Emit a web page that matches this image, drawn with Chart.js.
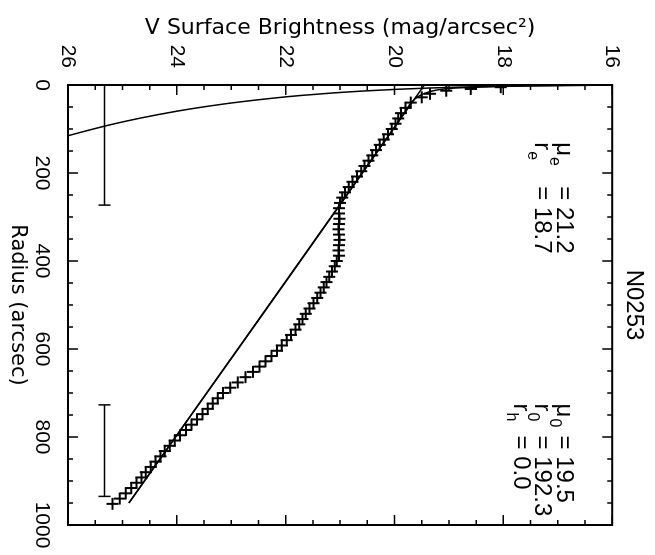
<!DOCTYPE html>
<html>
<head>
<meta charset="utf-8">
<script src="https://cdn.jsdelivr.net/npm/chart.js@4.4.0/dist/chart.umd.min.js"></script>
<style>
  html, body { margin: 0; padding: 0; background: #fff; overflow: hidden; }
  /* the plot is drawn upright, then turned a quarter clockwise like the scan */
  #wrap { position: absolute; left: 0; top: 0; width: 555px; height: 655px;
          transform-origin: 0 0; transform: translate(655px, 0) rotate(90deg); }
</style>
</head>
<body>
<div id="wrap"><canvas id="profile" width="555" height="655"></canvas></div>
<script>
const galaxy = 'N0253';

// measured profile (crosses)
const radius = [5, 9, 13, 20, 28, 40, 52, 64, 76, 88, 100, 112, 124, 136, 148, 160, 172, 184, 196, 208,
  220, 232, 244, 256, 268, 280, 292, 304, 316, 328, 340, 352, 364, 376, 388, 400, 412, 424, 436, 448,
  460, 472, 484, 496, 508, 520, 532, 544, 556, 568, 580, 592, 604, 616, 628, 640, 652, 664, 676, 688,
  700, 712, 724, 736, 748, 760, 772, 784, 796, 808, 820, 832, 844, 856, 868, 880, 892, 904, 916, 928, 940, 952];
const surfBright = [18.05, 18.6, 19.05, 19.35, 19.5, 19.7, 19.8, 19.88, 19.93, 19.98, 20.05, 20.12, 20.2, 20.27, 20.34, 20.41, 20.48, 20.55, 20.61, 20.69,
  20.77, 20.84, 20.91, 20.96, 21.0, 21.02, 21.02, 21.01, 21.02, 21.03, 21.02, 21.01, 21.02, 21.03, 21.02, 21.06, 21.1, 21.15, 21.2, 21.25,
  21.3, 21.36, 21.42, 21.49, 21.56, 21.63, 21.69, 21.75, 21.82, 21.9, 21.98, 22.07, 22.16, 22.26, 22.37, 22.48, 22.6, 22.74, 22.88, 23.02,
  23.15, 23.25, 23.34, 23.43, 23.53, 23.63, 23.73, 23.83, 23.94, 24.04, 24.13, 24.22, 24.3, 24.39, 24.48, 24.57, 24.65, 24.74, 24.84, 24.94, 25.05, 25.18];

// bulge (r^1/4) model curve
const bulgeR  = [0.4, 1, 2, 3, 5, 7, 10, 14, 18, 24, 30, 40, 50, 60, 75, 90, 105, 116];
const bulgeMu = [16.06, 16.88, 17.64, 18.14, 18.86, 19.39, 19.99, 20.62, 21.12, 21.74, 22.24, 22.94, 23.52, 24.02, 24.66, 25.21, 25.69, 26.02];

// bulge + disk
const totalR  = [0.4, 1, 2, 3.5, 5, 7, 10, 15, 25, 40, 60, 950];
const totalMu = [16.0, 16.8, 17.5, 18.1, 18.5, 18.9, 19.15, 19.35, 19.55, 19.69, 19.8, 24.88];

// exponential disk
const diskR  = [0, 950];
const diskMu = [19.45, 24.88];

// radial ranges used for the fits
const fitRanges = [[0, 273], [727, 935]];
const fitBarMu = 25.33;

const bulgeNote = [['μ', 'e', '21.2'], ['r', 'e', '18.7']];
const diskNote  = [['μ', '0', '19.5'], ['r', '0', '192.3'], ['r', 'h', '0.0']];
const noteRows  = [17.02, 17.42, 17.8];   // baselines, in mag
const noteCols  = [130, 724];             // left edges, in arcsec
const eqGap     = [44, 32];               // px from symbol to "="

const SANS = '"Liberation Sans", Arial, sans-serif';
const BLACK = '#000';

function pts(xs, ys) { return xs.map((v, i) => ({x: v, y: ys[i]})); }

const frame = {
  id: 'frame',
  afterDraw(chart) {
    const {ctx, chartArea: a, scales: {x, y}} = chart;
    ctx.save();
    ctx.strokeStyle = BLACK;
    ctx.lineWidth = 2;
    ctx.strokeRect(a.left, a.top, a.right - a.left, a.bottom - a.top);
    ctx.lineWidth = 1.5;
    ctx.beginPath();
    for (let r = 0; r <= 1000; r += 50) {
      const px = x.getPixelForValue(r), len = r % 200 === 0 ? 10 : 5;
      ctx.moveTo(px, a.bottom); ctx.lineTo(px, a.bottom - len);
      ctx.moveTo(px, a.top); ctx.lineTo(px, a.top + len);
    }
    for (let m = 16; m <= 26; m += 0.5) {
      const py = y.getPixelForValue(m), len = m % 2 === 0 ? 10 : 5;
      ctx.moveTo(a.left, py); ctx.lineTo(a.left + len, py);
      ctx.moveTo(a.right, py); ctx.lineTo(a.right - len, py);
    }
    ctx.stroke();
    ctx.restore();
  }
};

const notes = {
  id: 'notes',
  afterDatasetsDraw(chart) {
    const {ctx, scales: {x, y}} = chart;
    ctx.save();
    ctx.fillStyle = BLACK;
    ctx.textBaseline = 'alphabetic';
    [bulgeNote, diskNote].forEach((block, b) => {
      block.forEach((ln, i) => {
        const px = x.getPixelForValue(noteCols[b]), py = y.getPixelForValue(noteRows[i]);
        ctx.font = '24px ' + SANS;
        ctx.fillText(ln[0], px, py);
        const w = ctx.measureText(ln[0]).width;
        ctx.font = '16px ' + SANS;
        ctx.fillText(ln[1], px + w + 1, py + 7);
        ctx.font = '24px ' + SANS;
        ctx.fillText('= ' + ln[2], px + eqGap[b], py);
      });
    });
    ctx.restore();
  }
};

const lineStyle = {showLine: true, pointRadius: 0, borderColor: BLACK, borderWidth: 1.5, cubicInterpolationMode: 'monotone'};

new Chart(document.getElementById('profile'), {
  type: 'scatter',
  data: {
    datasets: [
      {label: 'profile', data: pts(radius, surfBright), pointStyle: 'cross', pointRadius: 6,
       pointBorderWidth: 2, borderColor: BLACK, backgroundColor: BLACK},
      Object.assign({label: 'bulge', data: pts(bulgeR, bulgeMu)}, lineStyle),
      Object.assign({label: 'total', data: pts(totalR, totalMu)}, lineStyle),
      Object.assign({label: 'disk', data: pts(diskR, diskMu)}, lineStyle),
      ...fitRanges.map((rg, i) => ({
        label: 'fit range ' + (i + 1), data: pts(rg, [fitBarMu, fitBarMu]), showLine: true,
        borderColor: BLACK, borderWidth: 1.5, pointStyle: 'line', pointRotation: 90,
        pointRadius: 6, pointBorderWidth: 1.5
      }))
    ]
  },
  options: {
    responsive: false,
    animation: false,
    devicePixelRatio: 1,
    layout: {padding: {right: 30}},
    plugins: {
      legend: {display: false},
      tooltip: {enabled: false},
      title: {display: true, text: galaxy, fullSize: false, color: BLACK,
              font: {family: SANS, size: 24, weight: 'normal'}, padding: {top: 7, bottom: 7}}
    },
    scales: {
      x: {
        type: 'linear', min: 0, max: 1000,
        ticks: {stepSize: 200, padding: 14, maxRotation: 0, color: BLACK, font: {family: SANS, size: 21},
                callback: v => String(v)},
        grid: {display: false, drawTicks: false},
        border: {display: false},
        title: {display: true, text: 'Radius (arcsec)', color: BLACK,
                font: {family: '"DejaVu Sans", sans-serif', size: 21}, padding: {top: 0, bottom: 5}},
        afterFit(s) { s.height = 68; s.paddingLeft = 0; s.paddingRight = 0; }
      },
      y: {
        type: 'linear', min: 16, max: 26, reverse: true,
        ticks: {stepSize: 2, padding: 17, color: BLACK, font: {family: SANS, size: 21}},
        grid: {display: false, drawTicks: false},
        border: {display: false},
        title: {display: true, text: 'V Surface Brightness (mag/arcsec²)', color: BLACK,
                font: {family: '"DejaVu Sans", sans-serif', size: 22}, padding: {top: 15, bottom: 0}},
        afterFit(s) { s.width = 85; s.paddingTop = 0; s.paddingBottom = 0; }
      }
    }
  },
  plugins: [frame, notes]
});
</script>
</body>
</html>
